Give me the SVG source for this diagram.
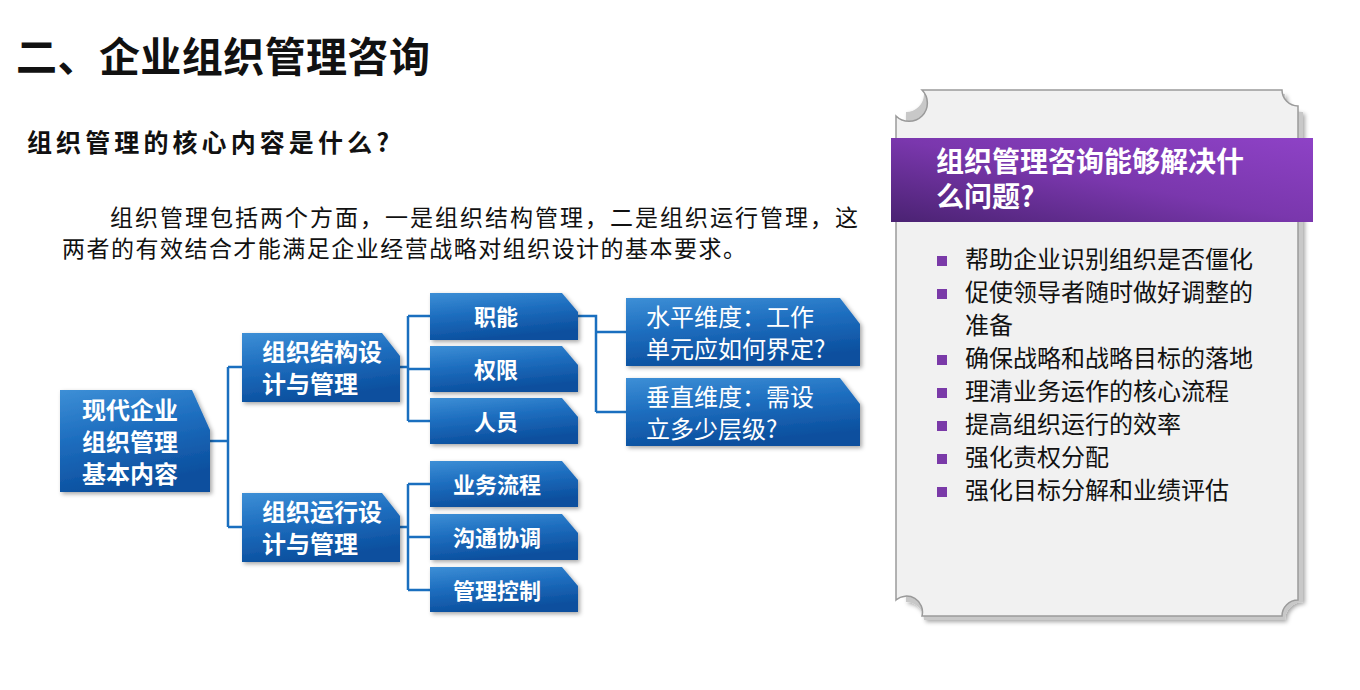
<svg xmlns="http://www.w3.org/2000/svg" width="1360" height="690" viewBox="0 0 1360 690">
<defs>
<linearGradient id="bg" x1="0" y1="0" x2="0.3" y2="1"><stop offset="0" stop-color="#3d8fd6"/><stop offset="0.45" stop-color="#1f6fc0"/><stop offset="1" stop-color="#0b4f9e"/></linearGradient>
<linearGradient id="pg" x1="0" y1="1" x2="1" y2="0"><stop offset="0" stop-color="#4a2272"/><stop offset="0.5" stop-color="#7a37ad"/><stop offset="1" stop-color="#8e42c6"/></linearGradient>
<filter id="sh" x="-10%" y="-10%" width="130%" height="130%"><feDropShadow dx="2" dy="2" stdDeviation="2" flood-color="#000" flood-opacity="0.35"/></filter>
</defs>
<style>
.n{fill:url(#bg);filter:url(#sh)}
.t{font-family:"Noto Sans CJK SC",sans-serif;font-weight:bold;fill:#fff}
.c{fill:none;stroke:#1a6fbf;stroke-width:2.5}
.b{font-family:"Noto Sans CJK SC",sans-serif;font-size:24px;fill:#111}
.q{fill:#7a3aa8}
</style>
<rect width="1360" height="690" fill="#fff"/>
<text x="16" y="72" font-family="Noto Sans CJK SC,sans-serif" font-weight="bold" font-size="41" textLength="414" fill="#111">二、企业组织管理咨询</text>
<text x="27" y="152" font-family="Noto Sans CJK SC,sans-serif" font-weight="bold" font-size="25" textLength="362" fill="#111">组织管理的核心内容是什么?</text>
<text x="110" y="226" font-family="Noto Sans CJK SC,sans-serif" font-size="23" textLength="748" fill="#111">组织管理包括两个方面，一是组织结构管理，二是组织运行管理，这</text>
<text x="62" y="257" font-family="Noto Sans CJK SC,sans-serif" font-size="23" textLength="684" fill="#111">两者的有效结合才能满足企业经营战略对组织设计的基本要求。</text>
<g id="connectors">
<path class="c" d="M210 441H228M228 367V527M228 367H242M228 527H242"/>
<path class="c" d="M400 367H408M408 316V421M408 316H430M408 369H430M408 421H430"/>
<path class="c" d="M400 527H408M408 484V590M408 484H430M408 537H430M408 590H430"/>
<path class="c" d="M578 316H596V412M596 332H626M596 412H626"/>
</g>
<g id="n0"><path class="n" d="M60 390H192L210 430V492H60Z"/><text class="t" font-size="24"><tspan x="82" y="419">现代企业</tspan><tspan x="82" y="451">组织管理</tspan><tspan x="82" y="483">基本内容</tspan></text></g>
<g id="n1"><path class="n" d="M242 333H382L400 356V402H242Z"/><text class="t" font-size="24"><tspan x="262" y="361">组织结构设</tspan><tspan x="262" y="393">计与管理</tspan></text></g>
<g id="n2"><path class="n" d="M242 493H382L400 516V562H242Z"/><text class="t" font-size="24"><tspan x="262" y="521">组织运行设</tspan><tspan x="262" y="553">计与管理</tspan></text></g>
<g id="n3"><path class="n" d="M430 293H562L578 312V340H430Z"/><text class="t" font-size="22" x="496" y="325" text-anchor="middle">职能</text></g>
<g id="n4"><path class="n" d="M430 346H562L578 365V392H430Z"/><text class="t" font-size="22" x="496" y="378" text-anchor="middle">权限</text></g>
<g id="n5"><path class="n" d="M430 398H562L578 417V444H430Z"/><text class="t" font-size="22" x="496" y="430" text-anchor="middle">人员</text></g>
<g id="n6"><path class="n" d="M430 461H562L578 480V507H430Z"/><text class="t" font-size="22" x="497" y="493" text-anchor="middle">业务流程</text></g>
<g id="n7"><path class="n" d="M430 514H562L578 533V560H430Z"/><text class="t" font-size="22" x="497" y="546" text-anchor="middle">沟通协调</text></g>
<g id="n8"><path class="n" d="M430 567H562L578 586V612H430Z"/><text class="t" font-size="22" x="497" y="599" text-anchor="middle">管理控制</text></g>
<g id="n9"><path class="n" d="M626 298H840L860 324V366H626Z"/><text font-family="Noto Sans CJK SC,sans-serif" font-size="24" fill="#fff"><tspan x="646" y="326">水平维度：工作</tspan><tspan x="646" y="358">单元应如何界定?</tspan></text></g>
<g id="n10"><path class="n" d="M626 378H840L860 404V446H626Z"/><text font-family="Noto Sans CJK SC,sans-serif" font-size="24" fill="#fff"><tspan x="646" y="406">垂直维度：需设</tspan><tspan x="646" y="438">立多少层级?</tspan></text></g>
<g id="panel">
<path d="M924 94H1285A18 18 0 0 0 1303 112V602A18 18 0 0 0 1285 620H924A18 18 0 0 0 906 602V112A18 18 0 0 0 924 94Z" fill="#c8c8c8" filter="url(#sh)"/>
<path d="M922 90H1282A16 16 0 0 0 1298 106V600A16 16 0 0 0 1282 616H922A16 16 0 0 0 896 600V116A16 16 0 0 0 922 90Z" fill="#f1f1f1" stroke="#9a9a9a" stroke-width="1.5"/>
<rect x="891" y="138" width="422" height="84" fill="url(#pg)"/>
<text class="t" font-size="28"><tspan x="936" y="172">组织管理咨询能够解决什</tspan><tspan x="936" y="207">么问题?</tspan></text>
<g>
<rect class="q" x="937" y="256" width="10" height="10"/><text class="b" x="965" y="268">帮助企业识别组织是否僵化</text>
<rect class="q" x="937" y="289" width="10" height="10"/><text class="b" x="965" y="301">促使领导者随时做好调整的</text>
<text class="b" x="965" y="334">准备</text>
<rect class="q" x="937" y="355" width="10" height="10"/><text class="b" x="965" y="367">确保战略和战略目标的落地</text>
<rect class="q" x="937" y="388" width="10" height="10"/><text class="b" x="965" y="400">理清业务运作的核心流程</text>
<rect class="q" x="937" y="421" width="10" height="10"/><text class="b" x="965" y="433">提高组织运行的效率</text>
<rect class="q" x="937" y="454" width="10" height="10"/><text class="b" x="965" y="466">强化责权分配</text>
<rect class="q" x="937" y="487" width="10" height="10"/><text class="b" x="965" y="499">强化目标分解和业绩评估</text>
</g>
</g>
</svg>
